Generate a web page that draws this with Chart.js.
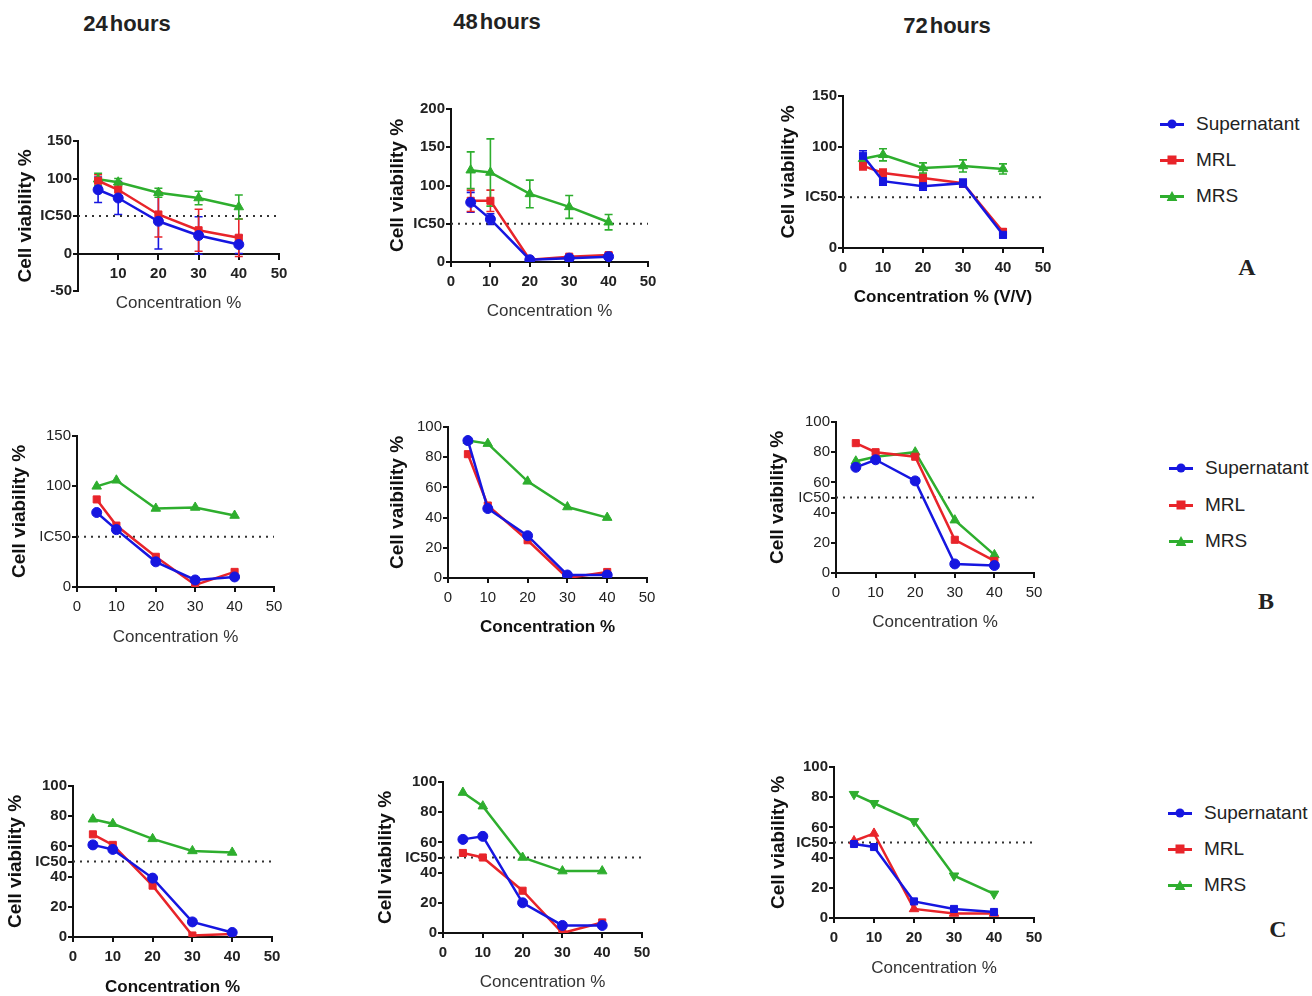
<!DOCTYPE html>
<html>
<head>
<meta charset="utf-8">
<script src="https://cdn.jsdelivr.net/npm/chart.js@4.4.0/dist/chart.umd.min.js"></script>
<style>
body { margin: 0; width: 1312px; height: 996px; background: #fff; position: relative; overflow: hidden; font-family: "Liberation Sans", Arial, sans-serif; }
canvas { position: absolute; }
.hdr { position: absolute; font-weight: bold; font-size: 22px; color: #222; transform: translate(-50%, -50%); word-spacing: -4px; white-space: nowrap; }
.letter { position: absolute; font-family: "Liberation Serif", "Times New Roman", serif; font-weight: bold; font-size: 24px; color: #222; transform: translate(-50%, -50%); }
.item { position: absolute; display: flex; align-items: center; height: 22px; font-size: 19px; color: #222; white-space: nowrap; transform: translateY(-50%); }
.mk { position: relative; width: 24px; height: 22px; margin-right: 12px; }
.mk::before { content: ""; position: absolute; left: 0; right: 0; top: 10px; height: 2.5px; background: var(--c); }
.mk span { position: absolute; left: 50%; top: 50%; transform: translate(-50%, -50%); background: var(--c); }
.mk .circle { width: 9px; height: 9px; border-radius: 50%; }
.mk .rect { width: 9px; height: 9px; }
.mk .triangle { width: 11px; height: 10px; clip-path: polygon(50% 0, 100% 100%, 0 100%); }
</style>
</head>
<body>

<div class="hdr" style="left:127px;top:24px">24 hours</div>
<div class="hdr" style="left:497px;top:22px">48 hours</div>
<div class="hdr" style="left:947px;top:26px">72 hours</div>

<div class="letter" style="left:1247px;top:267px">A</div>
<div class="letter" style="left:1266px;top:601px">B</div>
<div class="letter" style="left:1278px;top:929px">C</div>

<div id="legends"></div>

<script>
Chart.defaults.font.family = '"Liberation Sans", Arial, sans-serif';

const concentrations = [5, 10, 20, 30, 40];
const seriesNames = ['Supernatant', 'MRL', 'MRS'];
const seriesColors = ['#1616e0', '#e8242a', '#2eae2e'];

const xTicks = [0, 10, 20, 30, 40, 50];
const yTicksA24 = [-50, 0, 50, 100, 150];
const yTicksA48 = [0, 50, 100, 150, 200];
const yTicks150 = [0, 50, 100, 150];
const yTicksPct = [0, 20, 40, 60, 80, 100];
const yTicksPctIC = [0, 20, 40, 50, 60, 80, 100];

// A - 24 hours (mean and SD)
const a24Sup = [85, 74, 43, 24, 12];
const a24SupErr = [17, 22, 37, 25, 12];
const a24Mrl = [97, 85, 52, 31, 21];
const a24MrlErr = [8, 10, 30, 28, 25];
const a24Mrs = [99, 95, 81, 74, 62];
const a24MrsErr = [8, 5, 6, 9, 16];

// A - 48 hours
const a48Sup = [78, 56, 3, 5, 7];
const a48SupErr = [13, 7, 2, 2, 2];
const a48Mrl = [80, 80, 3, 7, 9];
const a48MrlErr = [14, 14, 2, 2, 3];
const a48Mrs = [120, 117, 89, 72, 52];
const a48MrsErr = [24, 44, 18, 15, 10];

// A - 72 hours
const a72Sup = [91, 66, 61, 64, 13];
const a72SupErr = [5, 4, 4, 4, 3];
const a72Mrl = [81, 74, 69, 64, 16];
const a72MrlErr = [4, 4, 4, 3, 3];
const a72Mrs = [88, 92, 79, 81, 78];
const a72MrsErr = [4, 6, 5, 6, 5];

// B
const b24Sup = [74, 57, 25, 7, 10];
const b24Mrl = [87, 61, 30, 2, 15];
const b24Mrs = [100, 106, 78, 79, 71];
const b48Sup = [91, 46, 28, 2, 2];
const b48Mrl = [82, 48, 25, 0, 4];
const b48Mrs = [91, 89, 64, 47, 40];
const b72Sup = [70, 75, 61, 6, 5];
const b72Mrl = [86, 80, 77, 22, 8];
const b72Mrs = [74, 77, 80, 35, 12];

// C
const c24Sup = [61, 58, 39, 10, 3];
const c24Mrl = [68, 61, 34, 1, 2];
const c24Mrs = [78, 75, 65, 57, 56];
const c48Sup = [62, 64, 20, 5, 5];
const c48Mrl = [53, 50, 28, 0, 7];
const c48Mrs = [93, 84, 50, 41, 41];
const c72Sup = [49, 47, 11, 6, 4];
const c72Mrl = [51, 56, 6, 3, 3];
const c72Mrs = [82, 76, 64, 28, 16];

const VIAB = 'Cell viability %';
const VAIB = 'Cell vaibility %';
const CONC = 'Concentration %';

const Y_TITLE_SIZE = 19;
const X_TITLE_SIZE = 17;

// area = [left, top, right, bottom] of plot box, yT = y-title centre x, xT = x-title centre y
const panels = [
  { area: [78, 141, 279, 291], yT: 25, xT: 303, yMin: -50, yMax: 150, yTicks: yTicksA24, xAtZero: true, noZeroX: true, ic50: true,
    yTitle: VIAB, xTitle: CONC, xBold: false, tickBold: true,
    series: [a24Sup, a24Mrl, a24Mrs], errs: [a24SupErr, a24MrlErr, a24MrsErr] },
  { area: [451, 109, 648, 262], yT: 397, xT: 312, yMin: 0, yMax: 200, yTicks: yTicksA48, ic50: true,
    yTitle: VIAB, xTitle: CONC, xBold: false, tickBold: true,
    series: [a48Sup, a48Mrl, a48Mrs], errs: [a48SupErr, a48MrlErr, a48MrsErr] },
  { area: [843, 96, 1043, 248], yT: 788, xT: 298, yMin: 0, yMax: 150, yTicks: yTicks150, ic50: true,
    yTitle: VIAB, xTitle: 'Concentration % (V/V)', xBold: true, tickBold: true,
    series: [a72Sup, a72Mrl, a72Mrs], errs: [a72SupErr, a72MrlErr, a72MrsErr], shapes: ['rect', 'rect', 'triangle'] },
  { area: [77, 436, 274, 587], yT: 19, xT: 638, yMin: 0, yMax: 150, yTicks: yTicks150, ic50: true,
    yTitle: VIAB, xTitle: CONC, xBold: false, tickBold: false,
    series: [b24Sup, b24Mrl, b24Mrs] },
  { area: [448, 427, 647, 578], yT: 397, xT: 628, yMin: 0, yMax: 100, yTicks: yTicksPct, ic50: false,
    yTitle: VAIB, xTitle: CONC, xBold: true, tickBold: false,
    series: [b48Sup, b48Mrl, b48Mrs] },
  { area: [836, 422, 1034, 573], yT: 777, xT: 623, yMin: 0, yMax: 100, yTicks: yTicksPctIC, ic50: true,
    yTitle: VAIB, xTitle: CONC, xBold: false, tickBold: false,
    series: [b72Sup, b72Mrl, b72Mrs] },
  { area: [73, 786, 272, 937], yT: 15, xT: 988, yMin: 0, yMax: 100, yTicks: yTicksPctIC, ic50: true,
    yTitle: VIAB, xTitle: CONC, xBold: true, tickBold: true,
    series: [c24Sup, c24Mrl, c24Mrs] },
  { area: [443, 782, 642, 933], yT: 385, xT: 983, yMin: 0, yMax: 100, yTicks: yTicksPctIC, ic50: true,
    yTitle: VIAB, xTitle: CONC, xBold: false, tickBold: true,
    series: [c48Sup, c48Mrl, c48Mrs] },
  { area: [834, 767, 1034, 918], yT: 778, xT: 969, yMin: 0, yMax: 100, yTicks: yTicksPctIC, ic50: true,
    yTitle: VIAB, xTitle: CONC, xBold: false, tickBold: true,
    series: [c72Sup, c72Mrl, c72Mrs], shapes: ['rect', 'triangle', 'triangle'], rotations: [0, 0, 180] }
];

// SD bars drawn through the chart scales
const errorBars = {
  id: 'errorBars',
  beforeDatasetsDraw(chart) {
    const { ctx, scales: { x, y } } = chart;
    chart.data.datasets.forEach(ds => {
      if (!ds.errors) return;
      ctx.save();
      ctx.strokeStyle = ds.borderColor;
      ctx.lineWidth = 1.6;
      ds.data.forEach((pt, j) => {
        const e = ds.errors[j];
        const px = x.getPixelForValue(pt.x);
        const top = y.getPixelForValue(pt.y + e);
        const bot = y.getPixelForValue(pt.y - e);
        ctx.beginPath();
        ctx.moveTo(px, top); ctx.lineTo(px, bot);
        ctx.moveTo(px - 4, top); ctx.lineTo(px + 4, top);
        ctx.moveTo(px - 4, bot); ctx.lineTo(px + 4, bot);
        ctx.stroke();
      });
      ctx.restore();
    });
  }
};

panels.forEach(p => {
  const [l, t, r, b] = p.area;
  const cl = Math.round(p.yT - 0.6 * Y_TITLE_SIZE);
  const ct = t - 14;
  const cr = r + 20;
  const cb = p.xAtZero ? b + 30 : Math.round(p.xT + 0.6 * X_TITLE_SIZE);
  const canvas = document.createElement('canvas');
  canvas.width = cr - cl;
  canvas.height = cb - ct;
  canvas.style.left = cl + 'px';
  canvas.style.top = ct + 'px';
  document.body.appendChild(canvas);

  const shapes = p.shapes || ['circle', 'rect', 'triangle'];
  const rotations = p.rotations || [0, 0, 0];
  const datasets = p.series.map((vals, i) => ({
    label: seriesNames[i],
    data: concentrations.map((c, j) => ({ x: c, y: vals[j] })),
    errors: p.errs ? p.errs[i] : null,
    borderColor: seriesColors[i],
    backgroundColor: seriesColors[i],
    borderWidth: 2.5,
    pointStyle: shapes[i],
    pointRotation: rotations[i],
    pointRadius: shapes[i] === 'triangle' ? 5.5 : 5,
    pointBorderWidth: 1,
    tension: 0
  }));
  if (p.ic50) {
    datasets.push({
      label: 'IC50',
      data: [{ x: 0, y: 50 }, { x: 50, y: 50 }],
      borderColor: '#333',
      borderWidth: 2,
      borderDash: [2, 5],
      pointRadius: 0
    });
  }

  const zeroPx = t + (p.yMax / (p.yMax - p.yMin)) * (b - t);
  const tickFont = { size: 15, weight: p.tickBold ? 'bold' : 'normal' };

  new Chart(canvas, {
    type: 'line',
    data: { datasets },
    options: {
      responsive: false,
      animation: false,
      layout: { padding: { top: t - ct, right: cr - r, bottom: p.xAtZero ? cb - b : 0, left: 0 } },
      plugins: { legend: { display: false }, tooltip: { enabled: false } },
      scales: {
        x: {
          type: 'linear',
          min: 0,
          max: 50,
          position: p.xAtZero ? { y: 0 } : 'bottom',
          afterBuildTicks: s => { s.ticks = xTicks.map(v => ({ value: v })); },
          afterFit: s => {
            s.height = p.xAtZero ? p.xT - zeroPx + 0.6 * X_TITLE_SIZE : cb - b;
            s.paddingLeft = 0;
            s.paddingRight = 0;
          },
          grid: { drawOnChartArea: false, tickLength: 5, color: '#111', lineWidth: 2 },
          border: { display: true, color: '#111', width: 2 },
          ticks: {
            color: '#222', font: tickFont, padding: 6, maxRotation: 0, autoSkip: false,
            callback: v => (p.noZeroX && v === 0) ? '' : v
          },
          title: { display: true, text: p.xTitle, color: p.xBold ? '#111' : '#333',
                   font: { size: X_TITLE_SIZE, weight: p.xBold ? 'bold' : 'normal' }, padding: 0 }
        },
        y: {
          min: p.yMin,
          max: p.yMax,
          afterBuildTicks: s => { s.ticks = p.yTicks.map(v => ({ value: v })); },
          afterFit: s => {
            s.width = l - cl;
            s.paddingTop = 0;
            s.paddingBottom = 0;
          },
          grid: { drawOnChartArea: false, tickLength: 5, color: '#111', lineWidth: 2 },
          border: { display: true, color: '#111', width: 2 },
          ticks: {
            color: '#222', font: tickFont, padding: 1, autoSkip: false,
            callback: v => (p.ic50 && v === 50) ? 'IC50' : v
          },
          title: { display: true, text: p.yTitle, color: '#111', font: { size: Y_TITLE_SIZE, weight: 'bold' }, padding: 0 }
        }
      }
    },
    plugins: [errorBars]
  });
});

// legends (one per row)
const legendRows = [
  { x: 1160, ys: [124, 160, 196] },
  { x: 1169, ys: [468, 505, 541] },
  { x: 1168, ys: [813, 849, 885] }
];
const legendShapes = ['circle', 'rect', 'triangle'];
const legendBox = document.getElementById('legends');
legendRows.forEach(row => {
  seriesNames.forEach((name, i) => {
    const item = document.createElement('div');
    item.className = 'item';
    item.style.left = row.x + 'px';
    item.style.top = row.ys[i] + 'px';
    item.innerHTML = '<div class="mk" style="--c:' + seriesColors[i] + '"><span class="' + legendShapes[i] + '"></span></div>' + name;
    legendBox.appendChild(item);
  });
});
</script>
</body>
</html>
